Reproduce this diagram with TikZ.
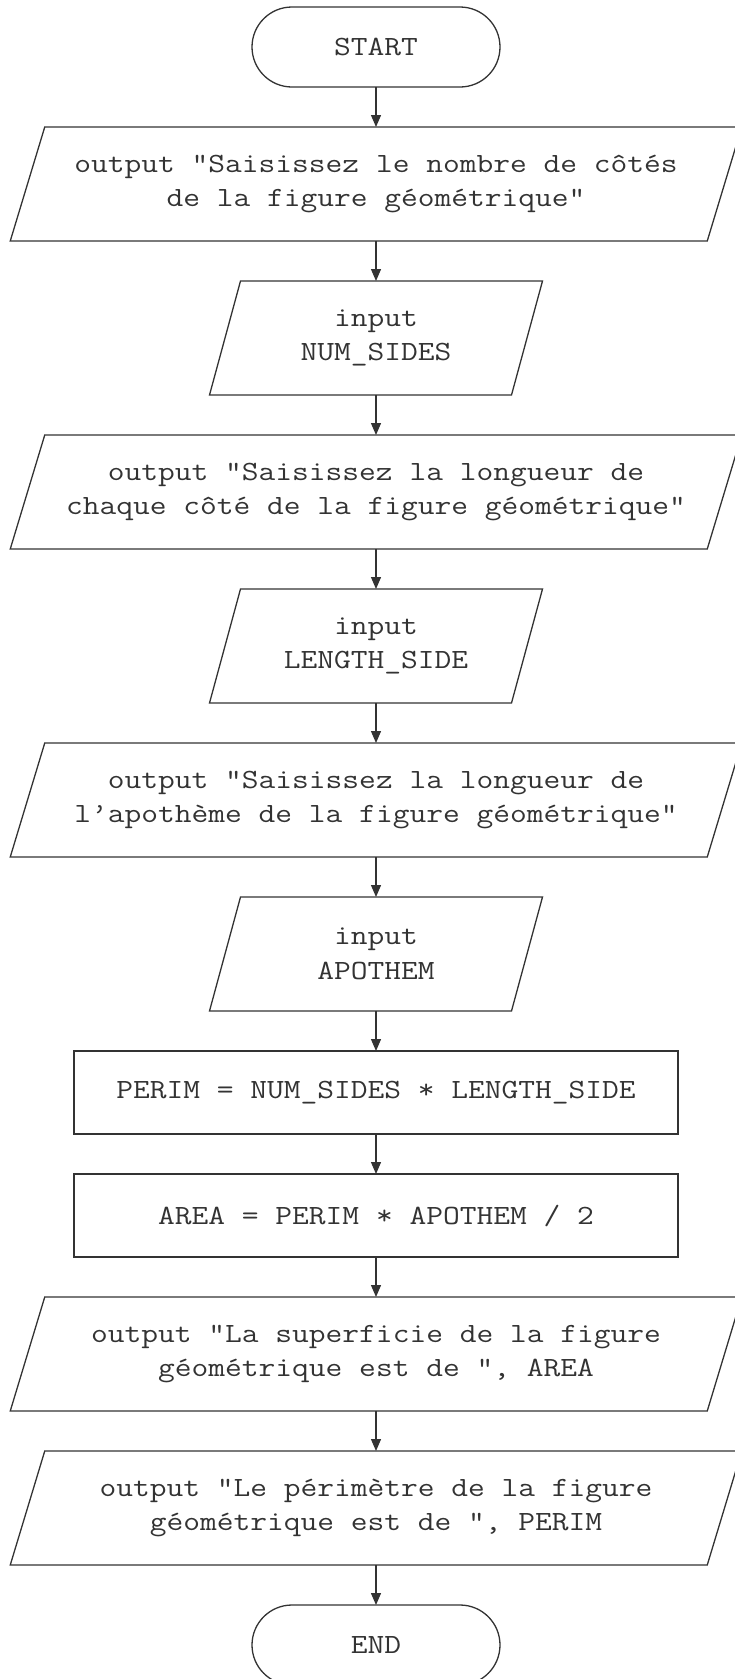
\documentclass[tikz,border=0pt]{standalone}
\usepackage{fontspec}
\newfontfamily\flowfont[FakeStretch=1.17]{Latin Modern Mono}
\usetikzlibrary{positioning}
\usetikzlibrary{shapes.misc}
\usetikzlibrary{arrows.meta}

\tikzset{
    flow/.style={font=\flowfont\fontsize{27.8}{34.5}\selectfont, align=center, inner sep=0pt, outer sep=0pt},
    term/.style={flow, draw, rounded rectangle, minimum width=248pt, minimum height=80pt},
    proc/.style={flow, draw, rectangle, minimum width=604pt, minimum height=83pt},
    outbox/.style={flow, minimum width=697pt, minimum height=114pt},
    inbox/.style={flow, minimum width=302pt, minimum height=114pt},
    link/.style={-{Triangle[length=12pt,width=10pt]}}
}

\begin{document}
\begin{tikzpicture}[x=1pt, y=1pt, node distance=40pt, color=black!80, line width=1.3pt]
    \useasboundingbox (0,0) rectangle (734,-1679);

    \node[term] (start) at (376,-47) {START};
    \node[outbox, below=of start] (asknum) {output "Saisissez le nombre de côtés\\de la figure géométrique"};
    \node[inbox, below=of asknum] (readnum) {input\\NUM\_SIDES};
    \node[outbox, below=of readnum] (asklen) {output "Saisissez la longueur de\\chaque côté de la figure géométrique"};
    \node[inbox, below=of asklen] (readlen) {input\\LENGTH\_SIDE};
    \node[outbox, below=of readlen] (askapo) {output "Saisissez la longueur de\\l’apothème de la figure géométrique"};
    \node[inbox, below=of askapo] (readapo) {input\\APOTHEM};
    \node[proc, below=of readapo] (perim) {PERIM = NUM\_SIDES * LENGTH\_SIDE};
    \node[proc, below=of perim] (area) {AREA = PERIM * APOTHEM / 2};
    \node[outbox, below=of area] (showarea) {output "La superficie de la figure\\géométrique est de ", AREA};
    \node[outbox, below=of showarea] (showperim) {output "Le périmètre de la figure\\géométrique est de ", PERIM};
    \node[term, below=of showperim] (end) {END};

    % slanted sides of the input/output boxes
    \foreach \n/\s in {asknum/17.25, asklen/17.25, askapo/17.25, showarea/17.25, showperim/17.25,
                       readnum/15.5, readlen/15.5, readapo/15.5}
        \draw ([xshift=\s pt]\n.north west) -- ([xshift=\s pt]\n.north east)
            -- ([xshift=-\s pt]\n.south east) -- ([xshift=-\s pt]\n.south west) -- cycle;

    \draw[link] (start) -- (asknum);
    \draw[link] (asknum) -- (readnum);
    \draw[link] (readnum) -- (asklen);
    \draw[link] (asklen) -- (readlen);
    \draw[link] (readlen) -- (askapo);
    \draw[link] (askapo) -- (readapo);
    \draw[link] (readapo) -- (perim);
    \draw[link] (perim) -- (area);
    \draw[link] (area) -- (showarea);
    \draw[link] (showarea) -- (showperim);
    \draw[link] (showperim) -- (end);
\end{tikzpicture}
\end{document}
